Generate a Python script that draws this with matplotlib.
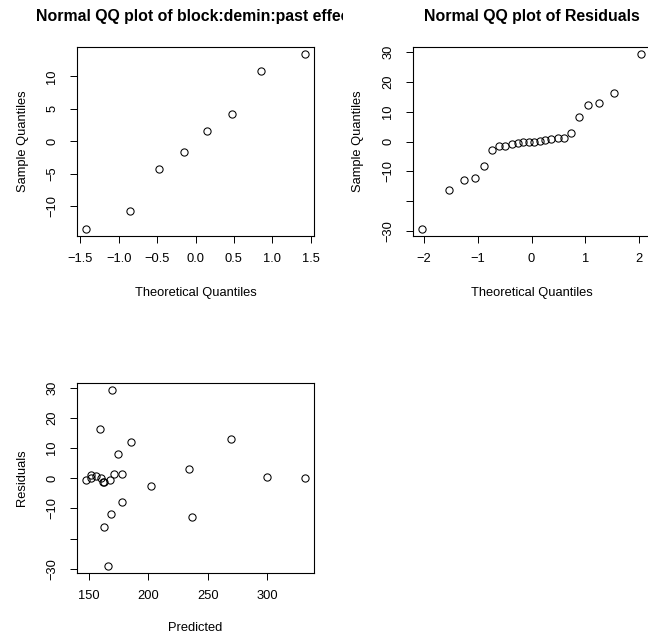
import numpy as np
import matplotlib
matplotlib.use("Agg")
import matplotlib.pyplot as plt
from matplotlib.transforms import Bbox, TransformedBbox

plt.rcParams['font.family'] = ['Liberation Sans', 'DejaVu Sans']

# QQ plot of the block:demin:past effects (8 effects)
effect_theo = [-1.43, -0.85, -0.47, -0.15, 0.15, 0.47, 0.85, 1.43]
effect_sample = [-13.5, -10.8, -4.3, -1.6, 1.55, 4.25, 10.8, 13.45]

# QQ plot of residuals (24 runs)
resid_theo = [-2.04, -1.53, -1.26, -1.05, -0.89, -0.74, -0.61, -0.49,
              -0.37, -0.26, -0.16, -0.05, 0.05, 0.16, 0.26, 0.37,
              0.49, 0.61, 0.74, 0.89, 1.05, 1.26, 1.53, 2.04]
resid_sample = [-29.4, -16.2, -13.1, -12.1, -8.2, -2.8, -1.45, -1.45,
                -0.78, -0.45, -0.11, 0.0, 0.0, 0.22, 0.56, 0.89,
                1.34, 1.34, 2.9, 8.3, 12.1, 13.1, 16.2, 29.4]

# residuals vs predicted
predicted = [147.2, 151.4, 151.4, 155.6, 159.8, 161.5, 162.6, 167.9,
             170.7, 178.0, 169.3, 159.3, 185.0, 174.7, 178.0, 168.5,
             162.9, 166.0, 202.1, 234.4, 236.9, 269.2, 300.0, 332.0]
residuals = [-0.45, 1.0, 0.1, 0.67, 0.1, -1.23, -1.23, -0.67,
             1.55, 1.43, 29.3, 16.3, 12.1, 8.2, -8.0, -11.9,
             -16.0, -29.1, -2.7, 3.0, -12.8, 13.1, 0.33, 0.0]

W, H = 648, 638
fig = plt.figure(figsize=(W / 100, H / 100), dpi=100)

FS = 9.3
TFS = 11.4


def add_ax(left, top, right, bottom):
    # pixel box -> figure fraction
    return fig.add_axes([left / W, 1 - bottom / H, (right - left) / W, (bottom - top) / H])


def style(ax, xticks, yticks, ylabels=None):
    ax.margins(0.04)
    ax.set_xticks(xticks)
    ax.set_yticks(yticks)
    if ylabels is not None:
        ax.set_yticklabels(ylabels)
    ax.tick_params(direction='out', length=5.0, width=0.7, labelsize=FS, color='black')
    ax.tick_params(axis='x', pad=7)
    ax.tick_params(axis='y', pad=8.5)
    for lab in ax.get_yticklabels():
        lab.set_rotation(90)
        lab.set_va('center')
    for sp in ax.spines.values():
        sp.set_linewidth(0.8)


def qq(ax, x, y):
    ax.plot(x, y, 'o', mfc='none', mec='black', ms=5.2, mew=0.75)


# panel 1
ax1 = add_ax(77, 47, 314, 236)
qq(ax1, effect_theo, effect_sample)
style(ax1, [-1.5, -1.0, -0.5, 0.0, 0.5, 1.0, 1.5], [-10, -5, 0, 5, 10])
ax1.set_xticklabels(['\u22121.5', '\u22121.0', '\u22120.5', '0.0', '0.5', '1.0', '1.5'])
ax1.set_xlabel('Theoretical Quantiles', fontsize=FS, va='center')
ax1.set_ylabel('Sample Quantiles', fontsize=FS, va='center')
ax1.xaxis.set_label_coords(0.5, -(293 - 236) / 189)
ax1.yaxis.set_label_coords(-(77 - 22.7) / 237, 0.5)
t1 = ax1.set_title('Normal QQ plot of block:demin:past effect', fontsize=TFS,
                   fontweight='bold', va='center', y=1 + 31 / 189, pad=0)
t1.set_clip_box(TransformedBbox(Bbox.from_extents(0, 0, 343 / W, 1), fig.transFigure))
t1.set_clip_on(True)

# panel 2
ax2 = add_ax(413, 47, 650, 236)
qq(ax2, resid_theo, resid_sample)
style(ax2, [-2, -1, 0, 1, 2], [-30, -20, -10, 0, 10, 20, 30],
      ['\u221230', '', '\u221210', '0', '10', '20', '30'])
ax2.set_xlabel('Theoretical Quantiles', fontsize=FS, va='center')
ax2.set_ylabel('Sample Quantiles', fontsize=FS, va='center')
ax2.xaxis.set_label_coords(0.5, -(293 - 236) / 189)
ax2.yaxis.set_label_coords(-(413 - 358.3) / 237, 0.5)
ax2.set_title('Normal QQ plot of Residuals', fontsize=TFS, fontweight='bold',
              va='center', y=1 + 31 / 189, pad=0)

# panel 3
ax3 = add_ax(77, 383, 314, 573)
qq(ax3, predicted, residuals)
style(ax3, [150, 200, 250, 300], [-30, -20, -10, 0, 10, 20, 30],
      ['\u221230', '', '\u221210', '0', '10', '20', '30'])
ax3.set_xlabel('Predicted', fontsize=FS, va='center')
ax3.set_ylabel('Residuals', fontsize=FS, va='center')
ax3.xaxis.set_label_coords(0.5, -(628.3 - 573) / 190)
ax3.yaxis.set_label_coords(-(77 - 21.7) / 237, 0.5)

fig.savefig('out.png', dpi=100)
